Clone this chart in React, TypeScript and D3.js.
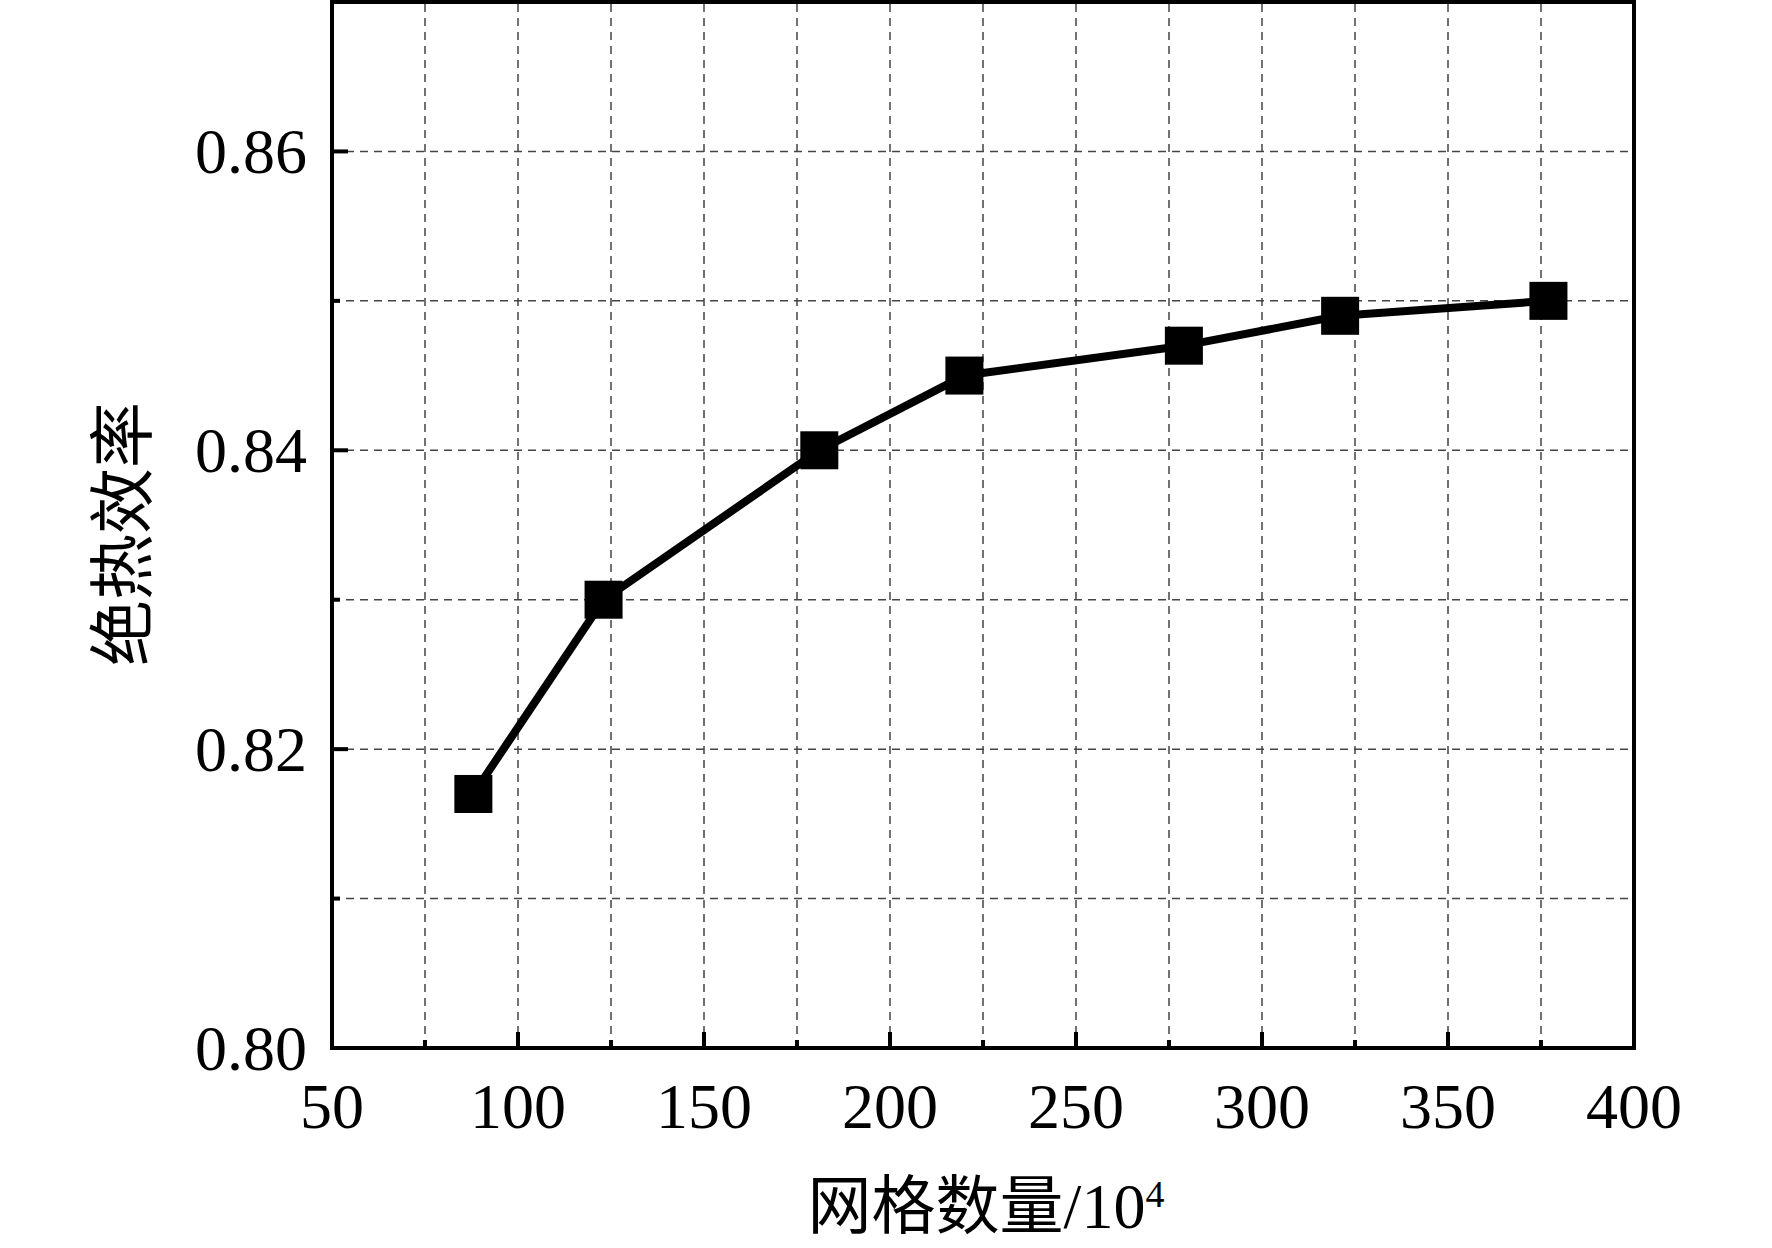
import React, { useEffect, useRef } from 'react';
import * as d3 from 'd3';

// mesh count (×10^4) vs adiabatic efficiency
const meshCounts = [88, 123, 181, 220, 279, 321, 377];
const efficiency = [0.817, 0.83, 0.84, 0.845, 0.847, 0.849, 0.85];

const xMajorTicks = [50, 100, 150, 200, 250, 300, 350, 400];
const xMinorTicks = [75, 125, 175, 225, 275, 325, 375];
const yMajorTicks = [0.8, 0.82, 0.84, 0.86];
const yMinorTicks = [0.81, 0.83, 0.85];

const xTitle = '网格数量/10';
const xTitleSup = '4';
const yTitle = '绝热效率';

const WIDTH = 1772;
const HEIGHT = 1248;

const serif = '"Liberation Serif", "Times New Roman", serif';
const cjk = '"Noto Sans CJK SC", "Liberation Serif", serif';

const App: React.FC = () => {
  const svgRef = useRef<SVGSVGElement | null>(null);

  useEffect(() => {
    if (!svgRef.current) return;
    const svg = d3.select(svgRef.current);
    svg.selectAll('*').remove();

    const x = d3.scaleLinear().domain([50, 400]).range([332, 1634]);
    const y = d3.scaleLinear().domain([0.8, 0.87]).range([1048, 2]);
    const [x0, x1] = x.range();
    const [y0, y1] = y.range();

    const points = meshCounts.map((m, i) => ({ m, e: efficiency[i] }));

    // dashed grid, every 25 in x and every 0.01 in y
    const grid = svg.append('g')
      .attr('stroke', '#444')
      .attr('stroke-width', 1.5)
      .attr('stroke-dasharray', '8,6');

    grid.selectAll('.gx')
      .data([...xMinorTicks, ...xMajorTicks.slice(1, -1)])
      .enter().append('line')
        .attr('x1', d => x(d)).attr('x2', d => x(d))
        .attr('y1', y0).attr('y2', y1);

    grid.selectAll('.gy')
      .data([...yMinorTicks, ...yMajorTicks.slice(1)])
      .enter().append('line')
        .attr('x1', x0).attr('x2', x1)
        .attr('y1', d => y(d)).attr('y2', d => y(d));

    // inward ticks on bottom and left
    const ticks = svg.append('g').attr('stroke', '#000').attr('stroke-width', 4);
    ticks.selectAll('.tx')
      .data([...xMajorTicks.slice(1, -1).map(v => ({ v, len: 16 })), ...xMinorTicks.map(v => ({ v, len: 8 }))])
      .enter().append('line')
        .attr('x1', d => x(d.v)).attr('x2', d => x(d.v))
        .attr('y1', y0).attr('y2', d => y0 - d.len);
    ticks.selectAll('.ty')
      .data([...yMajorTicks.slice(1).map(v => ({ v, len: 16 })), ...yMinorTicks.map(v => ({ v, len: 8 }))])
      .enter().append('line')
        .attr('x1', x0).attr('x2', d => x0 + d.len)
        .attr('y1', d => y(d.v)).attr('y2', d => y(d.v));

    // frame
    svg.append('rect')
      .attr('x', x0).attr('y', y1)
      .attr('width', x1 - x0).attr('height', y0 - y1)
      .attr('fill', 'none')
      .attr('stroke', '#000')
      .attr('stroke-width', 4);

    // series line
    const line = d3.line<{ m: number; e: number }>()
      .x(d => x(d.m))
      .y(d => y(d.e));

    svg.append('path')
      .datum(points)
      .attr('d', line)
      .attr('fill', 'none')
      .attr('stroke', '#000')
      .attr('stroke-width', 8)
      .attr('stroke-linejoin', 'round');

    const size = 38;
    svg.selectAll('.marker')
      .data(points)
      .enter().append('rect')
        .attr('x', d => x(d.m) - size / 2)
        .attr('y', d => y(d.e) - size / 2)
        .attr('width', size)
        .attr('height', size)
        .attr('fill', '#000');

    // tick labels
    svg.selectAll('.lx')
      .data(xMajorTicks)
      .enter().append('text')
        .attr('x', d => x(d))
        .attr('y', 1128)
        .attr('text-anchor', 'middle')
        .attr('font-family', serif)
        .attr('font-size', 64)
        .attr('fill', '#000')
        .text(d => d3.format('d')(d));

    svg.selectAll('.ly')
      .data(yMajorTicks)
      .enter().append('text')
        .attr('x', 307)
        .attr('y', d => y(d) + 22)
        .attr('text-anchor', 'end')
        .attr('font-family', serif)
        .attr('font-size', 64)
        .attr('fill', '#000')
        .text(d => d3.format('.2f')(d));

    // axis titles
    const xt = svg.append('text')
      .attr('x', 986)
      .attr('y', 1228)
      .attr('text-anchor', 'middle')
      .attr('font-family', cjk)
      .attr('font-size', 64)
      .attr('fill', '#000');
    xt.append('tspan').text(xTitle.slice(0, 4));
    xt.append('tspan').attr('font-family', serif).text(xTitle.slice(4));
    xt.append('tspan')
      .attr('font-family', serif)
      .attr('font-size', 38)
      .attr('dy', -21)
      .text(xTitleSup);

    svg.append('text')
      .attr('transform', 'translate(146,534) rotate(-90)')
      .attr('text-anchor', 'middle')
      .attr('font-family', cjk)
      .attr('font-size', 66)
      .attr('fill', '#000')
      .text(yTitle);
  }, []);

  return (
    <svg
      ref={svgRef}
      width={WIDTH}
      height={HEIGHT}
      style={{ position: 'absolute', left: 0, top: 0, background: '#fff' }}
    />
  );
};

export default App;
